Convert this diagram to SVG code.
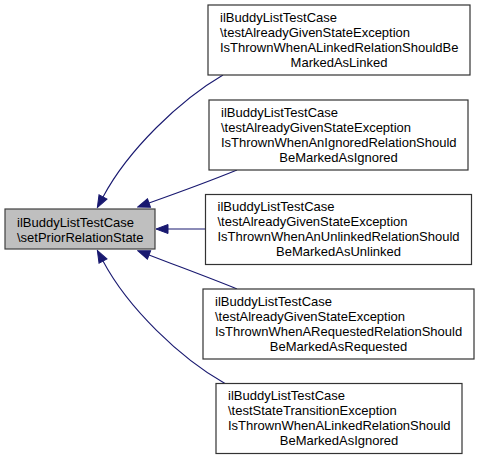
<svg xmlns="http://www.w3.org/2000/svg" width="480" height="460" viewBox="0 0 480 460">
<style>
text{font-family:"Liberation Sans",Helvetica,Arial,sans-serif;font-size:13px;fill:#000}
.box{fill:#fff;stroke:#333;stroke-width:1.2}
.main{fill:#bfbfbf;stroke:#404040;stroke-width:1.2}
.edge{fill:none;stroke:#191970;stroke-width:1.1}
.c{text-anchor:middle}
</style>
<defs>
<marker id="ah" markerUnits="userSpaceOnUse" markerWidth="14" markerHeight="11" viewBox="0 0 14 11" refX="1" refY="5.5" orient="auto">
<path d="M1,1 L13,5.5 L1,10 z" fill="#191970" stroke="#191970" stroke-width="1"/>
</marker>
</defs>
<rect width="480" height="460" fill="#fff"/>
<g id="connectors">
<path class="edge" d="M223,75 C180,100 128,150 103,197" marker-end="url(#ah)"/>
<path class="edge" d="M237,170 C210,181 180,192 149,203" marker-end="url(#ah)"/>
<path class="edge" d="M205.5,229 L168,229" marker-end="url(#ah)"/>
<path class="edge" d="M237,289 C210,278 180,267 149,255" marker-end="url(#ah)"/>
<path class="edge" d="M225,383.5 C180,358 128,308 103,261" marker-end="url(#ah)"/>
</g>
<g id="main">
<rect class="main" x="5" y="209" width="150" height="40"/>
<text x="17" y="226.5">ilBuddyListTestCase</text>
<text x="17" y="241.5">\setPriorRelationState</text>
</g>
<g id="n1">
<rect class="box" x="208" y="5" width="262" height="70"/>
<text x="220" y="21.5">ilBuddyListTestCase</text>
<text x="220" y="36.5">\testAlreadyGivenStateException</text>
<text x="220" y="51.5">IsThrownWhenALinkedRelationShouldBe</text>
<text class="c" x="339" y="66.5">MarkedAsLinked</text>
</g>
<g id="n2">
<rect class="box" x="209" y="100" width="259" height="70"/>
<text x="221" y="116.5">ilBuddyListTestCase</text>
<text x="221" y="131.5">\testAlreadyGivenStateException</text>
<text x="221" y="146.5">IsThrownWhenAnIgnoredRelationShould</text>
<text class="c" x="338.5" y="161.5">BeMarkedAsIgnored</text>
</g>
<g id="n3">
<rect class="box" x="205.5" y="194.5" width="266" height="70"/>
<text x="217.5" y="211">ilBuddyListTestCase</text>
<text x="217.5" y="226">\testAlreadyGivenStateException</text>
<text x="217.5" y="241">IsThrownWhenAnUnlinkedRelationShould</text>
<text class="c" x="338.5" y="256">BeMarkedAsUnlinked</text>
</g>
<g id="n4">
<rect class="box" x="203" y="289" width="271" height="70"/>
<text x="215" y="305.5">ilBuddyListTestCase</text>
<text x="215" y="320.5">\testAlreadyGivenStateException</text>
<text x="215" y="335.5">IsThrownWhenARequestedRelationShould</text>
<text class="c" x="338.5" y="350.5">BeMarkedAsRequested</text>
</g>
<g id="n5">
<rect class="box" x="216" y="383.5" width="246" height="70"/>
<text x="228" y="400">ilBuddyListTestCase</text>
<text x="228" y="415">\testStateTransitionException</text>
<text x="228" y="430">IsThrownWhenALinkedRelationShould</text>
<text class="c" x="339" y="445">BeMarkedAsIgnored</text>
</g>
</svg>
